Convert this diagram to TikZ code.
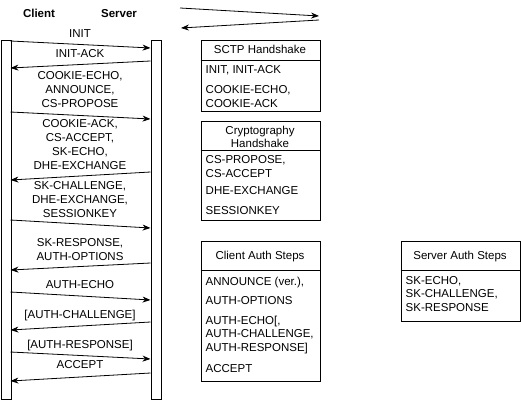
\documentclass[tikz,border=0pt]{standalone}
\usepackage{fontspec}
\setmainfont{Liberation Sans}
\usetikzlibrary{arrows.meta}
\begin{document}
\begin{tikzpicture}[x=1pt,y=-1pt,
  lifeline/.style={draw,line width=1pt,minimum width=10pt,minimum height=358pt,inner sep=0pt,anchor=north west},
  msg/.style={line width=0.8pt,-{Stealth[length=8pt,width=6pt]}},
  lbl/.style={align=center,anchor=base,inner sep=0pt,font=\fontsize{11.5}{13.8}\selectfont},
  hdr/.style={align=center,anchor=base,inner sep=0pt,font=\bfseries\fontsize{11.5}{13.8}\selectfont},
  panel/.style={draw,line width=1pt,inner sep=0pt,anchor=north west,minimum width=119pt},
  entry/.style={align=left,anchor=base west,inner sep=0pt,font=\fontsize{11.5}{13.3}\selectfont},
  title/.style={align=center,anchor=base,inner sep=0pt,font=\fontsize{11.5}{13}\selectfont}]
\useasboundingbox (0,0) rectangle (521,401);
% headers
\node[hdr] (hclient) at (39,18) {Client};
\node[hdr] (hserver) at (119,18) {Server};
% lifelines
\node[lifeline] (cl) at (0.5,40.5) {};
\node[lifeline] (sv) at (150.5,40.5) {};
% endpoints
\foreach \n/\y in {1/41,2/68,3/112,4/180,5/220,6/270,7/292,8/330,9/352,10/381}
  \coordinate (c\n) at (10.5,\y);
\foreach \n/\y in {1/48,2/61,3/119,4/172,5/228,6/263,7/300,8/322,9/359,10/373}
  \coordinate (s\n) at (150.5,\y);
\draw[msg] (c1) -- (s1);
\draw[msg] (s2) -- (c2);
\draw[msg] (c3) -- (s3);
\draw[msg] (s4) -- (c4);
\draw[msg] (c5) -- (s5);
\draw[msg] (s6) -- (c6);
\draw[msg] (c7) -- (s7);
\draw[msg] (s8) -- (c8);
\draw[msg] (c9) -- (s9);
\draw[msg] (s10) -- (c10);
% labels (anchor = baseline of last line)
\node[lbl] (l1) at (80,38) {INIT};
\node[lbl] (l2) at (80,58) {INIT-ACK};
\node[lbl] (l3) at (80,107) {COOKIE-ECHO,\\ANNOUNCE,\\CS-PROPOSE};
\node[lbl] (l4) at (80,169) {COOKIE-ACK,\\CS-ACCEPT,\\SK-ECHO,\\DHE-EXCHANGE};
\node[lbl] (l5) at (80,217) {SK-CHALLENGE,\\DHE-EXCHANGE,\\SESSIONKEY};
\node[lbl] (l6) at (80,260) {SK-RESPONSE,\\AUTH-OPTIONS};
\node[lbl] (l7) at (80,288) {AUTH-ECHO};
\node[lbl] (l8) at (80,318) {[AUTH-CHALLENGE]};
\node[lbl] (l9) at (80,348) {[AUTH-RESPONSE]};
\node[lbl] (l10) at (80,368) {ACCEPT};
% legend arrows
\coordinate (la1) at (180,8);
\coordinate (la2) at (319,16);
\coordinate (lb1) at (319,20);
\coordinate (lb2) at (181,28);
\draw[msg] (la1) -- (la2);
\draw[msg] (lb1) -- (lb2);
% SCTP box
\node[panel,minimum height=70pt] (sctp) at (200.5,40.5) {};
\draw[line width=1pt] (sctp.west |- 0,60.5) -- (sctp.east |- 0,60.5);
\node[title] (sctpt) at (260,54) {SCTP Handshake};
\node[entry] (sctp1) at (205.5,74) {INIT, INIT-ACK};
\node[entry] (sctp2) at (205.5,107) {COOKIE-ECHO,\\COOKIE-ACK};
% Crypto box
\node[panel,minimum height=99pt] (cry) at (200.5,120.5) {};
\draw[line width=1pt] (cry.west |- 0,150.5) -- (cry.east |- 0,150.5);
\node[title] (cryt) at (260,147) {Cryptography\\Handshake};
\node[entry] (cry1) at (205.5,177) {CS-PROPOSE,\\CS-ACCEPT};
\node[entry] (cry2) at (205.5,194) {DHE-EXCHANGE};
\node[entry] (cry3) at (205.5,214) {SESSIONKEY};
% Client auth box
\node[panel,minimum height=140pt] (ca) at (200.5,240.5) {};
\draw[line width=1pt] (ca.west |- 0,270.5) -- (ca.east |- 0,270.5);
\node[title] (cat) at (260,259) {Client Auth Steps};
\node[entry] (ca1) at (205.5,285) {ANNOUNCE (ver.),};
\node[entry] (ca2) at (205.5,304) {AUTH-OPTIONS};
\node[entry] (ca3) at (205.5,351) {AUTH-ECHO[,\\AUTH-CHALLENGE,\\AUTH-RESPONSE]};
\node[entry] (ca4) at (205.5,372) {ACCEPT};
% Server auth box
\node[panel,minimum height=80pt] (sa) at (400.5,240.5) {};
\draw[line width=1pt] (sa.west |- 0,270.5) -- (sa.east |- 0,270.5);
\node[title] (sat) at (460,259) {Server Auth Steps};
\node[entry] (sa1) at (405.5,311) {SK-ECHO,\\SK-CHALLENGE,\\SK-RESPONSE};
\end{tikzpicture}
\end{document}
